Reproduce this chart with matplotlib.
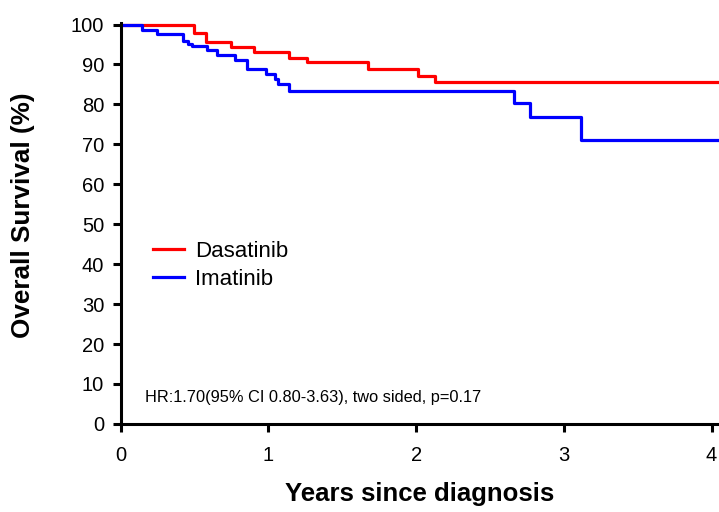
import matplotlib
matplotlib.use("Agg")
import matplotlib.pyplot as plt

plt.rcParams["font.family"] = ["Liberation Sans", "DejaVu Sans"]

# Kaplan-Meier steps (years, survival %)
dasatinib_t = [0.0, 0.494, 0.58, 0.749, 0.903, 1.138, 1.263, 1.672, 2.014, 2.128, 4.05]
dasatinib_s = [100, 97.8, 95.7, 94.3, 93.2, 91.7, 90.5, 88.8, 87.2, 85.5, 85.5]

imatinib_t = [0.0, 0.141, 0.244, 0.421, 0.453, 0.483, 0.585, 0.653, 0.771, 0.853,
              0.983, 1.047, 1.063, 1.142, 2.66, 2.769, 3.115, 4.05]
imatinib_s = [100, 98.6, 97.6, 96.0, 95.0, 94.5, 93.5, 92.4, 91.1, 88.8,
              87.7, 86.3, 85.0, 83.4, 80.4, 76.8, 71.2, 71.2]

x_ticks = [0, 1, 2, 3, 4]
y_ticks = list(range(0, 101, 10))
stats_text = "HR:1.70(95% CI 0.80-3.63), two sided, p=0.17"

fig = plt.figure(figsize=(7.19, 5.12), dpi=100)
ax = fig.add_axes([0.168, 0.172, 0.832, 0.784])

ax.step(dasatinib_t, dasatinib_s, where="post", color="#ff0000", lw=2.3, label="Dasatinib")
ax.step(imatinib_t, imatinib_s, where="post", color="#0000ff", lw=2.3, label="Imatinib")

ax.set_xlim(0, 4.05)
ax.set_ylim(0, 100.5)
ax.set_xticks(x_ticks)
ax.set_yticks(y_ticks)
ax.tick_params(direction="out", length=6, width=2.2, labelsize=14.5)
ax.tick_params(axis="y", pad=6)
ax.tick_params(axis="x", pad=10)

for side in ["top", "right"]:
    ax.spines[side].set_visible(False)
for side in ["left", "bottom"]:
    ax.spines[side].set_linewidth(2.2)

ax.set_xlabel("Years since diagnosis", fontsize=18.5, fontweight="bold", labelpad=12)
ax.set_ylabel("Overall Survival (%)", fontsize=18.8, fontweight="bold")
ax.yaxis.set_label_coords(-0.143, 0.52)

ax.legend(loc="upper left", bbox_to_anchor=(0.02, 0.505), frameon=False,
          fontsize=16, handlelength=1.4, handletextpad=0.5, labelspacing=0.3)

ax.text(0.04, 0.067, stats_text, transform=ax.transAxes, fontsize=11.8, va="center")

fig.savefig("out.png", dpi=100)
